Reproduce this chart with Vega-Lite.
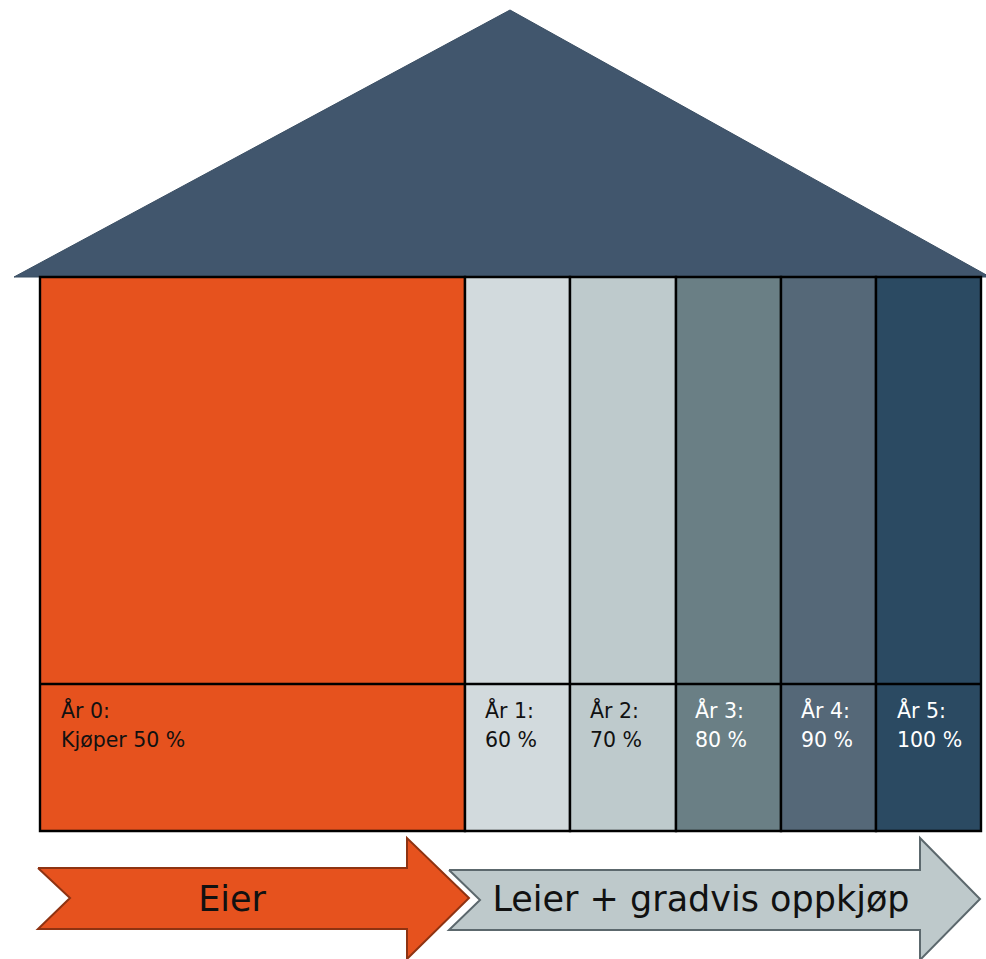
{
  "$schema": "https://vega.github.io/schema/vega-lite/v6.json",
  "width": 986,
  "height": 959,
  "autosize": "none",
  "padding": 0,
  "background": "white",
  "config": {"view": {"stroke": null}},
  "datasets": {
    "shapes": [
      {"shape": "roof", "i": 0, "x": 14, "y": 277},
      {"shape": "roof", "i": 1, "x": 510, "y": 10},
      {"shape": "roof", "i": 2, "x": 990, "y": 277},
      {"shape": "roof", "i": 3, "x": 14, "y": 277},
      {"shape": "eier", "i": 0, "x": 38, "y": 868},
      {"shape": "eier", "i": 1, "x": 407, "y": 868},
      {"shape": "eier", "i": 2, "x": 407, "y": 838},
      {"shape": "eier", "i": 3, "x": 469, "y": 898},
      {"shape": "eier", "i": 4, "x": 407, "y": 959},
      {"shape": "eier", "i": 5, "x": 407, "y": 929},
      {"shape": "eier", "i": 6, "x": 38, "y": 929},
      {"shape": "eier", "i": 7, "x": 70, "y": 898},
      {"shape": "eier", "i": 8, "x": 38, "y": 868},
      {"shape": "leier", "i": 0, "x": 449, "y": 870},
      {"shape": "leier", "i": 1, "x": 920, "y": 870},
      {"shape": "leier", "i": 2, "x": 920, "y": 838},
      {"shape": "leier", "i": 3, "x": 980, "y": 899},
      {"shape": "leier", "i": 4, "x": 920, "y": 960},
      {"shape": "leier", "i": 5, "x": 920, "y": 930},
      {"shape": "leier", "i": 6, "x": 449, "y": 930},
      {"shape": "leier", "i": 7, "x": 480, "y": 900},
      {"shape": "leier", "i": 8, "x": 449, "y": 870}
    ],
    "columns": [
      {"year": "År 0", "x0": 40, "x1": 465, "top": 277, "bottom": 831},
      {"year": "År 1", "x0": 465, "x1": 570, "top": 277, "bottom": 831},
      {"year": "År 2", "x0": 570, "x1": 676, "top": 277, "bottom": 831},
      {"year": "År 3", "x0": 676, "x1": 781, "top": 277, "bottom": 831},
      {"year": "År 4", "x0": 781, "x1": 876, "top": 277, "bottom": 831},
      {"year": "År 5", "x0": 876, "x1": 981, "top": 277, "bottom": 831}
    ],
    "labels": [
      {"year": "År 0", "label": "År 0:\nKjøper 50 %", "x": 61, "y": 718, "ink": "dark"},
      {"year": "År 1", "label": "År 1:\n60 %", "x": 485, "y": 718, "ink": "dark"},
      {"year": "År 2", "label": "År 2:\n70 %", "x": 590, "y": 718, "ink": "dark"},
      {"year": "År 3", "label": "År 3:\n80 %", "x": 695, "y": 718, "ink": "light"},
      {"year": "År 4", "label": "År 4:\n90 %", "x": 801, "y": 718, "ink": "light"},
      {"year": "År 5", "label": "År 5:\n100 %", "x": 897, "y": 718, "ink": "light"}
    ],
    "arrows": [
      {"label": "Eier", "x": 232, "y": 900},
      {"label": "Leier + gradvis oppkjøp", "x": 701, "y": 900}
    ],
    "divider": [
      {"x0": 40, "x1": 981, "y": 684}
    ]
  },
  "layer": [
    {
      "data": {"name": "shapes"},
      "transform": [{"filter": "datum.shape === 'roof'"}],
      "mark": {"type": "line", "filled": true, "fill": "#41566D", "stroke": "#3A4E63", "strokeWidth": 1, "interpolate": "linear"},
      "encoding": {
        "x": {"field": "x", "type": "quantitative", "scale": {"domain": [0, 986], "nice": false, "zero": false}, "axis": null},
        "y": {"field": "y", "type": "quantitative", "scale": {"domain": [0, 959], "nice": false, "zero": false, "reverse": true}, "axis": null},
        "order": {"field": "i"}
      }
    },
    {
      "data": {"name": "columns"},
      "mark": {"type": "rect", "stroke": "#000000", "strokeWidth": 2.4},
      "encoding": {
        "x": {"field": "x0", "type": "quantitative"},
        "x2": {"field": "x1"},
        "y": {"field": "top", "type": "quantitative"},
        "y2": {"field": "bottom"},
        "fill": {
          "field": "year", "type": "nominal", "legend": null,
          "scale": {
            "domain": ["År 0", "År 1", "År 2", "År 3", "År 4", "År 5"],
            "range": ["#E6521E", "#D2DADD", "#BECACC", "#6A7F85", "#556878", "#2B4A62"]
          }
        }
      }
    },
    {
      "data": {"name": "divider"},
      "mark": {"type": "rule", "stroke": "#000000", "strokeWidth": 2.4},
      "encoding": {
        "x": {"field": "x0", "type": "quantitative"},
        "x2": {"field": "x1"},
        "y": {"field": "y", "type": "quantitative"}
      }
    },
    {
      "data": {"name": "labels"},
      "mark": {"type": "text", "align": "left", "baseline": "alphabetic", "lineBreak": "\n", "lineHeight": 29, "font": "DejaVu Sans", "fontSize": 20.5},
      "encoding": {
        "x": {"field": "x", "type": "quantitative"},
        "y": {"field": "y", "type": "quantitative"},
        "text": {"field": "label"},
        "color": {"field": "ink", "type": "nominal", "legend": null, "scale": {"domain": ["dark", "light"], "range": ["#111111", "#FFFFFF"]}}
      }
    },
    {
      "data": {"name": "shapes"},
      "transform": [{"filter": "datum.shape === 'eier'"}],
      "mark": {"type": "line", "filled": true, "fill": "#E6521E", "stroke": "#8E3312", "strokeWidth": 2},
      "encoding": {
        "x": {"field": "x", "type": "quantitative"},
        "y": {"field": "y", "type": "quantitative"},
        "order": {"field": "i"}
      }
    },
    {
      "data": {"name": "shapes"},
      "transform": [{"filter": "datum.shape === 'leier'"}],
      "mark": {"type": "line", "filled": true, "fill": "#BEC9CB", "stroke": "#5C686D", "strokeWidth": 2},
      "encoding": {
        "x": {"field": "x", "type": "quantitative"},
        "y": {"field": "y", "type": "quantitative"},
        "order": {"field": "i"}
      }
    },
    {
      "data": {"name": "arrows"},
      "mark": {"type": "text", "align": "center", "baseline": "middle", "font": "DejaVu Sans", "fontSize": 35, "color": "#111111"},
      "encoding": {
        "x": {"field": "x", "type": "quantitative"},
        "y": {"field": "y", "type": "quantitative"},
        "text": {"field": "label"}
      }
    }
  ]
}
